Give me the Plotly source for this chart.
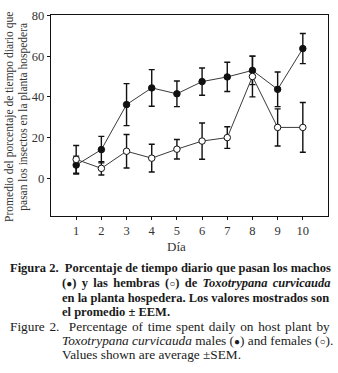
import plotly.graph_objects as go

days = [1, 2, 3, 4, 5, 6, 7, 8, 9, 10]
males = [6.5, 14.1, 36.2, 44.4, 41.5, 47.5, 49.8, 53.0, 43.7, 63.7]
males_sem = [4.4, 6.5, 10.3, 9.0, 6.3, 6.7, 7.2, 7.0, 8.5, 7.4]
females = [9.3, 4.9, 13.3, 9.9, 14.3, 18.3, 20.0, 50.0, 25.0, 25.0]
females_sem = [6.8, 3.3, 8.2, 6.8, 4.8, 8.9, 5.3, 10.0, 9.1, 12.2]
y_ticks = [0, 20, 40, 60, 80]
x_ticks = days

W, H = 338, 373
L, R, T, B = 51, 329.5, 13.3, 216.3
SERIF = "Liberation Serif"

def px(xp):
    return (xp - L) / (R - L)

def py(yp):
    return (B - yp) / (B - T)

fig = go.Figure()
line_col = "#3a3a3a"
fig.add_trace(go.Scatter(
    x=days, y=males, mode="lines+markers",
    line=dict(color=line_col, width=1),
    marker=dict(symbol="circle", size=6.5, color="#111111", line=dict(color="#111111", width=1)),
    error_y=dict(type="data", array=males_sem, visible=True, color="#111111", thickness=1.4, width=3),
    showlegend=False))
fig.add_trace(go.Scatter(
    x=days, y=females, mode="lines+markers",
    line=dict(color=line_col, width=1),
    marker=dict(symbol="circle", size=6.5, color="white", line=dict(color="#111111", width=1)),
    error_y=dict(type="data", array=females_sem, visible=True, color="#111111", thickness=1.4, width=3),
    showlegend=False))

axis_common = dict(showline=True, linecolor="#111111", linewidth=1.3, mirror=True,
                   ticks="outside", ticklen=3, tickcolor="#111111", tickwidth=1.2,
                   showgrid=False, zeroline=False,
                   tickfont=dict(family=SERIF, size=12.5, color="#333333"))
fig.update_xaxes(range=[0, 11], tickvals=x_ticks, ticktext=[str(d) for d in x_ticks], **axis_common)
fig.update_yaxes(range=[-18.5, 80.2], tickvals=y_ticks, ticktext=[str(v) for v in y_ticks], **axis_common)

ann = []
ann.append(dict(text="Promedio del porcentaje de tiempo diario que<br>pasan los insectos en la planta hospedera",
                x=px(16), y=py(116), xref="paper", yref="paper", textangle=-90,
                showarrow=False, xanchor="center", yanchor="middle",
                font=dict(family=SERIF, size=11.5, color="#333333")))
ann.append(dict(text="Día", x=px(177), y=py(247), xref="paper", yref="paper",
                showarrow=False, xanchor="center", yanchor="middle",
                font=dict(family=SERIF, size=13, color="#333333")))

dot = '<span style="font-size:10px">●</span>'
circ = '<span style="font-size:10px">○</span>'

def ws(txt, px_extra):
    return '<span style="word-spacing:%.1fpx">%s</span>' % (px_extra, txt)

cap_lines = [
    (8, 269, "<b>Figura 2.  Porcentaje de tiempo diario que pasan los machos</b>", 12.5),
    (60, 284, "<b>" + ws("(" + dot + ") y las hembras (" + circ + ") de <i>Toxotrypana curvicauda</i>", 2.2) + "</b>", 12.5),
    (60, 299, "<b>en la planta hospedera. Los valores mostrados son</b>", 12.5),
    (60, 313, "<b>el promedio ± EEM.</b>", 12.5),
    (8, 328, ws("Figure 2.  Percentage of time spent daily on host plant by", 1.4), 13.3),
    (60, 342, "<i>Toxotrypana curvicauda</i> males (" + dot + ") and females (" + circ + ").", 13.3),
    (60, 356, "Values shown are average ±SEM.", 13.3),
]
for xp, yp, txt, fs in cap_lines:
    ann.append(dict(text=txt, x=px(xp), y=py(yp), xref="paper", yref="paper",
                    showarrow=False, xanchor="left", yanchor="middle",
                    font=dict(family=SERIF, size=fs, color="#1a1a1a")))

fig.update_layout(width=W, height=H, margin=dict(l=L, r=W - R, t=T, b=H - B),
                  paper_bgcolor="white", plot_bgcolor="white", annotations=ann)
fig.write_html("out.html", config={"displayModeBar": False},
               post_script="document.body.style.margin='0';document.body.style.overflow='hidden';")
